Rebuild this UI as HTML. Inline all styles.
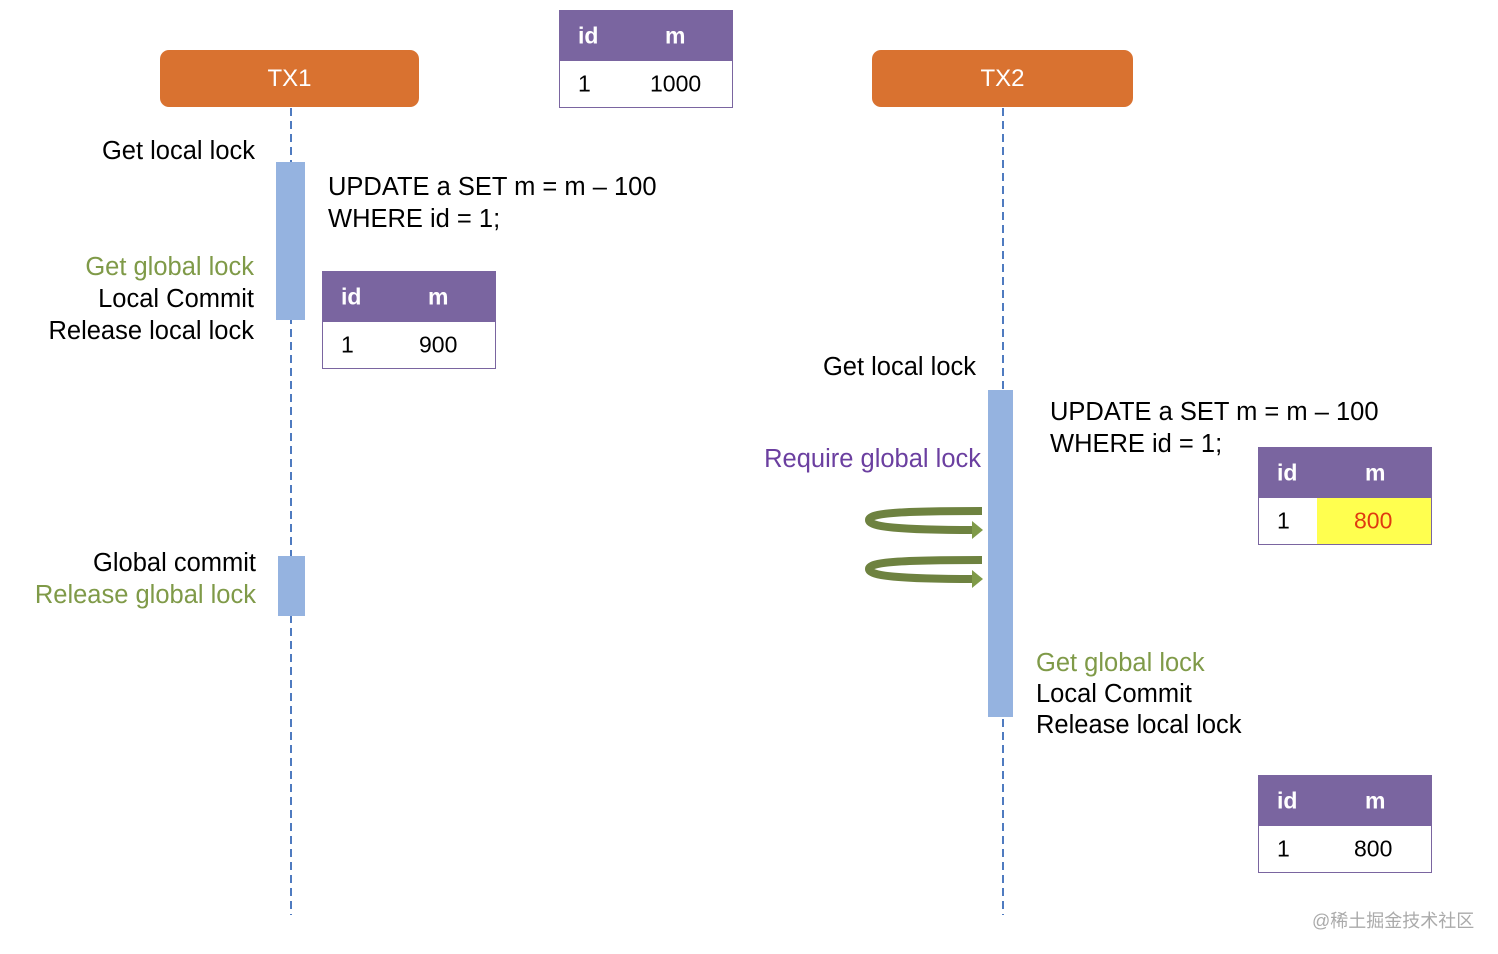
<!DOCTYPE html>
<html><head><meta charset="utf-8"><style>
body{margin:0;width:1498px;height:954px;background:#fff;position:relative;overflow:hidden;font-family:"Liberation Sans",Arial,sans-serif}
.a{position:absolute}
.hdr{background:#D97230;border-radius:9px;color:#fff;font-size:24px;text-align:center;line-height:57px}
.t{position:absolute;font-size:25.5px;color:#000;white-space:nowrap;line-height:32px}
.r{text-align:right}
.g{color:#7F9A48}
.tb{position:absolute;width:172px;height:96px;border:1px solid #7A65A0;background:#fff}
.tb .h{height:50px;background:#7A65A0;color:#fff;font-weight:bold;font-size:23px;position:relative}
.tb .b{height:46px;position:relative;font-size:23px}
.tb span{position:absolute;top:50%;transform:translateY(-50%)}
.bar{position:absolute;background:#95B3E0}
</style></head><body>
<div class="a hdr" style="left:160px;top:50px;width:259px;height:57px">TX1</div>
<div class="a hdr" style="left:872px;top:50px;width:261px;height:57px">TX2</div>
<svg class="a" style="left:0;top:0" width="1498" height="954">
<line x1="291" y1="108" x2="291" y2="915" stroke="#4F7BC0" stroke-width="2" stroke-dasharray="8,5"/>
<line x1="1003" y1="108" x2="1003" y2="915" stroke="#4F7BC0" stroke-width="2" stroke-dasharray="8,5"/>
<g fill="none" stroke-width="8">
<path d="M982 511 C900 511 869 513 869 520 C869 527 900 530 974 530" stroke="#6E8240"/>
<path d="M982 560 C900 560 869 562 869 569 C869 576 900 579 974 579" stroke="#6E8240"/>
</g>
<polygon points="972,521 983,530 972,539" fill="#7F9A48"/>
<polygon points="972,570 983,579 972,588" fill="#7F9A48"/>
</svg>
<div class="bar" style="left:276px;top:162px;width:29px;height:158px"></div>
<div class="bar" style="left:278px;top:556px;width:27px;height:60px"></div>
<div class="bar" style="left:988px;top:390px;width:25px;height:327px"></div>

<div class="tb" style="left:559px;top:10px"><div class="h"><span style="left:18px">id</span><span style="left:105px">m</span></div><div class="b"><span style="left:18px">1</span><span style="left:90px">1000</span></div></div>
<div class="tb" style="left:322px;top:271px"><div class="h"><span style="left:18px">id</span><span style="left:105px">m</span></div><div class="b"><span style="left:18px">1</span><span style="left:96px">900</span></div></div>
<div class="tb" style="left:1258px;top:447px"><div class="h"><span style="left:18px">id</span><span style="left:106px">m</span></div><div class="b"><div style="position:absolute;left:58px;top:0;width:114px;height:46px;background:#FFFF4F"></div><span style="left:18px">1</span><span style="left:95px;color:#E03A10">800</span></div></div>
<div class="tb" style="left:1258px;top:775px"><div class="h"><span style="left:18px">id</span><span style="left:106px">m</span></div><div class="b"><span style="left:18px">1</span><span style="left:95px">800</span></div></div>

<div class="t r" style="right:1243px;top:135px">Get local lock</div>
<div class="t" style="left:328px;top:171px">UPDATE a SET m = m – 100<br>WHERE id = 1;</div>
<div class="t r" style="right:1244px;top:251px;line-height:32px"><span class="g">Get global lock</span><br>Local Commit<br>Release local lock</div>
<div class="t r" style="right:1242px;top:547px"><span>Global commit</span><br><span class="g">Release global lock</span></div>

<div class="t r" style="right:522px;top:351px">Get local lock</div>
<div class="t" style="left:1050px;top:396px">UPDATE a SET m = m – 100<br>WHERE id = 1;</div>
<div class="t r" style="right:517px;top:443px;color:#6B3FA0">Require global lock</div>
<div class="t" style="left:1036px;top:648px;line-height:31px"><span class="g">Get global lock</span><br>Local Commit<br>Release local lock</div>

<div class="t" style="left:1312px;top:905px;font-size:18px;color:#aaa;font-family:'Liberation Sans','Noto Sans CJK SC',sans-serif">@稀土掘金技术社区</div>
</body></html>
